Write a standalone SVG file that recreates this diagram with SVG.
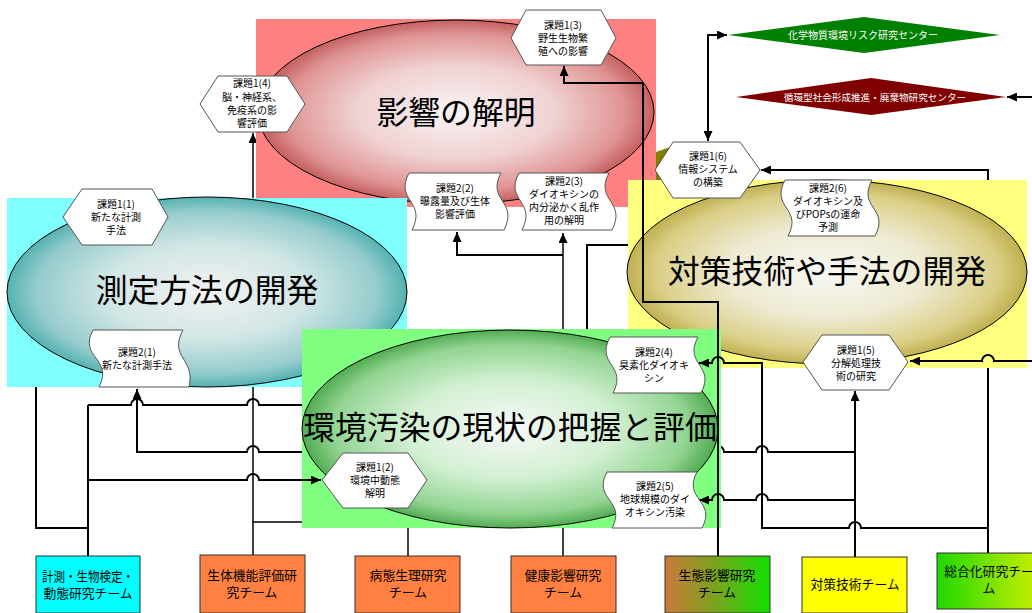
<svg xmlns="http://www.w3.org/2000/svg" width="1032" height="613" viewBox="0 0 1032 613">
<defs>
<style>
.ln{fill:none;stroke:#000;stroke-width:2}
.ln2{fill:none;stroke:#000;stroke-width:1.5}
.nd{fill:#fff;stroke:#555;stroke-width:1}
.el{stroke:#000;stroke-width:1}
.t{font-family:'Noto Sans CJK JP','Noto Sans CJK SC',sans-serif;fill:#000;text-anchor:middle}
.s{font-size:10px}
.big{font-size:31.8px}
.tm{font-size:12.8px}
.dm{font-size:10px;fill:#fff}
.team{stroke:#333;stroke-width:1}
</style>
<marker id="ah" markerUnits="userSpaceOnUse" markerWidth="10" markerHeight="9" refX="10" refY="4.5" orient="auto-start-reverse"><path d="M0,0 L10,4.5 L0,9 Z" fill="#000"/></marker>
<radialGradient id="gRed"><stop offset="0" stop-color="#f8f4f4"/><stop offset="0.5" stop-color="#f0d2d2"/><stop offset="0.85" stop-color="#e09494"/><stop offset="1" stop-color="#c46060"/></radialGradient>
<radialGradient id="gCyan"><stop offset="0" stop-color="#f2f2f2"/><stop offset="0.5" stop-color="#d2e6e6"/><stop offset="0.85" stop-color="#96cccc"/><stop offset="1" stop-color="#54b2b2"/></radialGradient>
<radialGradient id="gGreen"><stop offset="0" stop-color="#f8f8f8"/><stop offset="0.5" stop-color="#d2f0d2"/><stop offset="0.85" stop-color="#92d492"/><stop offset="1" stop-color="#52ac52"/></radialGradient>
<radialGradient id="gYellow"><stop offset="0" stop-color="#f8f8f4"/><stop offset="0.5" stop-color="#eeead2"/><stop offset="0.85" stop-color="#dacf86"/><stop offset="1" stop-color="#c0b050"/></radialGradient>
<linearGradient id="gEco" x1="0" y1="0" x2="1" y2="0"><stop offset="0" stop-color="#c87a3c"/><stop offset="0.45" stop-color="#80a020"/><stop offset="1" stop-color="#10e000"/></linearGradient>
<linearGradient id="gSogo" x1="0" y1="0" x2="1" y2="0"><stop offset="0" stop-color="#20d800"/><stop offset="1" stop-color="#d0f000"/></linearGradient>
</defs>

<g id="connectors-back">
<path class="ln" d="M88,405 H131 a6,6 0 0 1 12,0 H247 a6,6 0 0 1 12,0 H340"/>
<path class="ln" d="M855,452 H768 a6,6 0 0 0 -12,0 H724 a6,6 0 0 0 -12,0 H259 a6,6 0 0 0 -12,0 H137 V389" marker-end="url(#ah)"/>
<path class="ln2" d="M253,556 V133" marker-end="url(#ah)"/>
<path class="ln2" d="M253,522 H340"/>
<path class="ln2" d="M408,556 V500"/>
<path class="ln2" d="M563,556 V233" marker-end="url(#ah)"/>
<path class="ln" d="M563,255 H457 V232" marker-end="url(#ah)"/>
<path class="ln" d="M587,340 V245 H660"/>
<path class="ln" d="M988,553 V170 H761" marker-end="url(#ah)"/>
</g>

<g id="region-effects">
<rect x="256" y="19" width="400" height="188" fill="#ff8080"/>
<ellipse class="el" cx="456" cy="112" rx="198" ry="92" fill="url(#gRed)"/>
<text class="t big" x="456" y="124">影響の解明</text>
</g>
<polygon points="656,152 676,145 676,180 656,180" fill="#808000"/>
<g id="region-measure">
<rect x="7" y="198" width="400" height="189" fill="#80ffff"/>
<ellipse class="el" cx="207" cy="292" rx="200" ry="95" fill="url(#gCyan)"/>
<text class="t big" x="207" y="302">測定方法の開発</text>
</g>
<g id="region-counter">
<rect x="628" y="180" width="399" height="188" fill="#ffff80"/>
<ellipse class="el" cx="827" cy="272" rx="200" ry="92" fill="url(#gYellow)"/>
<text class="t big" x="827" y="283">対策技術や手法の開発</text>
</g>
<g id="region-status">
<rect x="302" y="329" width="419" height="199" fill="#80ff80"/>
<ellipse class="el" cx="510" cy="429" rx="208" ry="99" fill="url(#gGreen)"/>
<text class="t big" x="510" y="439">環境汚染の現状の把握と評価</text>
</g>

<g id="connectors">
<path class="ln" d="M88,556 V405"/>
<path class="ln" d="M88,480 H247 a6,6 0 0 1 12,0 H321" marker-end="url(#ah)"/>
<path class="ln" d="M88,528 H36 V387"/>
<path class="ln" d="M855,557 V391" marker-end="url(#ah)"/>
<path class="ln" d="M855,500 H768 a6,6 0 0 0 -12,0 H724 a6,6 0 0 0 -12,0 H699" marker-end="url(#ah)"/>
<path class="ln" d="M988,528 H861 a6,6 0 0 0 -12,0 H762 V363 H724 a6,6 0 0 0 -12,0 H699" marker-end="url(#ah)"/>
<path class="ln" d="M1032,361 H994 a6,6 0 0 0 -12,0 H910" marker-end="url(#ah)"/>
<path class="ln" d="M1032,97 H1007" marker-end="url(#ah)"/>
<path class="ln" d="M718,556 V302 H643 V83 H564 V66" marker-end="url(#ah)"/>
<path class="ln" d="M708,141 V35 H727" marker-start="url(#ah)" marker-end="url(#ah)"/>
</g>

<g id="task1-4">
<polygon class="nd" points="200,104 218,76 287,76 305,104 287,132 218,132"/>
<text class="t s" x="252" y="87">課題1(4)</text>
<text class="t s" x="252" y="101">脳・神経系、</text>
<text class="t s" x="252" y="114">免疫系の影</text>
<text class="t s" x="252" y="127">響評価</text>
</g>
<g id="task1-3">
<polygon class="nd" points="511,38 526,10 601,10 616,38 601,65 526,65"/>
<text class="t s" x="563" y="29">課題1(3)</text>
<text class="t s" x="563" y="42">野生生物繁</text>
<text class="t s" x="563" y="55">殖への影響</text>
</g>
<g id="task1-1">
<polygon class="nd" points="63,217 82,189 152,189 168,217 152,245 82,245"/>
<text class="t s" x="116" y="208">課題1(1)</text>
<text class="t s" x="116" y="221">新たな計測</text>
<text class="t s" x="116" y="234">手法</text>
</g>
<g id="task1-2">
<polygon class="nd" points="322,480 343,453 408,453 427,480 408,508 343,508"/>
<text class="t s" x="375" y="471">課題1(2)</text>
<text class="t s" x="375" y="484">環境中動態</text>
<text class="t s" x="375" y="497">解明</text>
</g>
<g id="task1-5">
<polygon class="nd" points="803,362 822,335 889,335 908,362 889,390 822,390"/>
<text class="t s" x="856" y="354">課題1(5)</text>
<text class="t s" x="856" y="367">分解処理技</text>
<text class="t s" x="856" y="380">術の研究</text>
</g>
<g id="task1-6">
<polygon class="nd" points="655,170 673,142 740,142 760,170 740,198 673,198"/>
<text class="t s" x="708" y="160">課題1(6)</text>
<text class="t s" x="708" y="173">情報システム</text>
<text class="t s" x="708" y="186">の構築</text>
</g>

<g id="task2-1">
<path class="nd" d="M93,330 H183 C168,358 196,358 189,387 H99 C114,358 78,358 93,330 Z"/>
<text class="t s" x="137" y="356">課題2(1)</text>
<text class="t s" x="137" y="369">新たな計測手法</text>
</g>
<g id="task2-2">
<path class="nd" d="M409,173 H501 C486,201 519,201 504,230 H412 C427,201 394,201 409,173 Z"/>
<text class="t s" x="455" y="192">課題2(2)</text>
<text class="t s" x="455" y="205">曝露量及び生体</text>
<text class="t s" x="455" y="218">影響評価</text>
</g>
<g id="task2-3">
<path class="nd" d="M519,173 H609 C594,201 627,201 612,230 H522 C537,201 504,201 519,173 Z"/>
<text class="t s" x="564" y="185">課題2(3)</text>
<text class="t s" x="564" y="198">ダイオキシンの</text>
<text class="t s" x="564" y="211">内分泌かく乱作</text>
<text class="t s" x="564" y="224">用の解明</text>
</g>
<g id="task2-4">
<path class="nd" d="M610,337 H698 C683,365 716,365 701,393 H613 C628,365 595,365 610,337 Z"/>
<text class="t s" x="654" y="356">課題2(4)</text>
<text class="t s" x="654" y="369">臭素化ダイオキ</text>
<text class="t s" x="654" y="382">シン</text>
</g>
<g id="task2-5">
<path class="nd" d="M607,472 H697 C682,500 717,500 702,528 H612 C627,500 592,500 607,472 Z"/>
<text class="t s" x="655" y="490">課題2(5)</text>
<text class="t s" x="655" y="503">地球規模のダイ</text>
<text class="t s" x="655" y="516">オキシン汚染</text>
</g>
<g id="task2-6">
<path class="nd" d="M785,180 H872 C857,208 890,208 875,236 H788 C803,208 770,208 785,180 Z"/>
<text class="t s" x="828" y="192">課題2(6)</text>
<text class="t s" x="828" y="205">ダイオキシン及</text>
<text class="t s" x="828" y="218">びPOPsの運命</text>
<text class="t s" x="828" y="231">予測</text>
</g>

<g id="center-risk">
<polygon points="728,35 864,17 1000,35 864,53" fill="#008000"/>
<text class="t dm" x="863" y="39">化学物質環境リスク研究センター</text>
</g>
<g id="center-waste">
<polygon points="736,97 871,78 1006,97 871,115" fill="#800000"/>
<text class="t dm" x="875" y="100.5" style="font-size:9.6px">循環型社会形成推進・廃棄物研究センター</text>
</g>

<g id="team-measure">
<rect class="team" x="36" y="556" width="104" height="57" fill="#00ffff"/>
<text class="t tm" x="88" y="581" textLength="92" lengthAdjust="spacingAndGlyphs">計測・生物検定・</text>
<text class="t tm" x="88" y="598">動態研究チーム</text>
</g>
<g id="team-bio">
<rect class="team" x="200" y="555" width="105" height="58" fill="#ff8040"/>
<text class="t tm" x="252" y="580">生体機能評価研</text>
<text class="t tm" x="252" y="597">究チーム</text>
</g>
<g id="team-patho">
<rect class="team" x="355" y="556" width="105" height="57" fill="#ff8040"/>
<text class="t tm" x="408" y="580">病態生理研究</text>
<text class="t tm" x="408" y="597">チーム</text>
</g>
<g id="team-health">
<rect class="team" x="511" y="556" width="105" height="57" fill="#ff8040"/>
<text class="t tm" x="563" y="580">健康影響研究</text>
<text class="t tm" x="563" y="597">チーム</text>
</g>
<g id="team-eco">
<rect class="team" x="665" y="556" width="105" height="57" fill="url(#gEco)"/>
<text class="t tm" x="717" y="580">生態影響研究</text>
<text class="t tm" x="717" y="597">チーム</text>
</g>
<g id="team-counter">
<rect class="team" x="802" y="557" width="105" height="56" fill="#ffff00"/>
<text class="t tm" x="855" y="589">対策技術チーム</text>
</g>
<g id="team-synth">
<rect class="team" x="937" y="553" width="105" height="56" fill="url(#gSogo)"/>
<text class="t tm" x="989" y="576">総合化研究チー</text>
<text class="t tm" x="989" y="593">ム</text>
</g>
</svg>
